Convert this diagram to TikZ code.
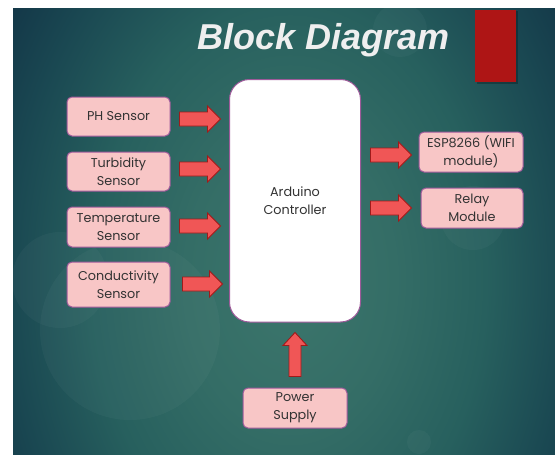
\documentclass[tikz,border=0pt]{standalone}
\usepackage{fontspec}
\usetikzlibrary{calc}
\newfontfamily\boxfont{Poppins}
\newfontfamily\titlefont{Liberation Sans}
\definecolor{bgA}{HTML}{3C766C}
\definecolor{bgB}{HTML}{346D66}
\definecolor{bgC}{HTML}{27605E}
\definecolor{bgD}{HTML}{1A4852}
\definecolor{bgE}{HTML}{123446}
\definecolor{boxfill}{HTML}{F8C6C6}
\definecolor{boxline}{HTML}{9E5A9A}
\definecolor{arrfill}{HTML}{F05656}
\definecolor{arrline}{HTML}{A01A1A}
\definecolor{txt}{HTML}{333333}
\definecolor{titlecol}{HTML}{EFEFEF}
\definecolor{redbar}{HTML}{AE1515}
\pgfdeclareradialshading{bgshade}{\pgfpoint{0bp}{0bp}}{color(0bp)=(bgA); color(7.5bp)=(bgB); color(14bp)=(bgC); color(20bp)=(bgD); color(25bp)=(bgE); color(50bp)=(bgE)}
\tikzset{
  blk/.style={draw=boxline, line width=1pt, fill=boxfill, rounded corners=5pt,
    inner sep=0pt, align=center, text=txt,
    font={\boxfont\fontsize{12.8}{17.7}\selectfont}},
  ctrl/.style={blk, fill=white, rounded corners=20pt},
  barrow/.style={draw=arrline, fill=arrfill, line width=0.9pt, line join=miter},
  bokeh/.style={fill=white, fill opacity=0.03, draw=none}
}
\newcommand\hbarrow[2]{%
  \path[barrow] let \p1=(#1), \p2=(#2) in
  (\x1,\y1+7pt) -- (\x2-13pt,\y1+7pt) -- (\x2-13pt,\y1+13pt) -- (\x2,\y1)
  -- (\x2-13pt,\y1-13pt) -- (\x2-13pt,\y1-7pt) -- (\x1,\y1-7pt) -- cycle;}
\newcommand\vbarrow[2]{%
  \path[barrow] let \p1=(#1), \p2=(#2) in
  (\x1-6pt,\y1) -- (\x1-6pt,\y2-13pt) -- (\x1-12pt,\y2-13pt) -- (\x1,\y2)
  -- (\x1+12pt,\y2-13pt) -- (\x1+6pt,\y2-13pt) -- (\x1+6pt,\y1) -- cycle;}
\begin{document}
\begin{tikzpicture}[x=1pt,y=-1pt]
\useasboundingbox (0,0) rectangle (555,455);
% background
\begin{scope}
  \clip (13,8) rectangle (555,455);
  \shade[shading=bgshade] (-60,-220) rectangle (640,780);
  \fill[bokeh] (130,330) circle (90);
  \fill[bokeh] (60,280) circle (48);
  \fill[bokeh] (400,30) circle (27);
  \fill[bokeh] (419,442) circle (12);
  \fill[bokeh] (473,218) circle (32);
\end{scope}
% red bar
\fill[black, opacity=0.25] (477,11) rectangle (518,84);
\fill[redbar] (475,9.5) rectangle (516,82);
% title
\node[anchor=base, text=titlecol, font={\titlefont\bfseries\itshape\fontsize{36}{40}\selectfont}, inner sep=0pt]
  (title) at (324,49) {Block Diagram};
% nodes
\node[ctrl, minimum width=131pt, minimum height=242.5pt] (ard) at (295,200.75) {Arduino\\Controller};
\node[blk, minimum width=103pt, minimum height=39pt] (ph) at (118.5,116.5) {PH Sensor};
\node[blk, minimum width=103pt, minimum height=39pt] (turb) at (118.5,171.5) {Turbidity\\Sensor};
\node[blk, minimum width=103pt, minimum height=40pt] (temp) at (118.5,227) {Temperature\\Sensor};
\node[blk, minimum width=103pt, minimum height=45pt] (cond) at (118.5,284.5) {Conductivity\\Sensor};
\node[blk, minimum width=104pt, minimum height=40pt] (esp) at (471,152) {ESP8266 (WIFI\\module)};
\node[blk, minimum width=102pt, minimum height=40pt] (relay) at (472,208) {Relay\\Module};
\node[blk, minimum width=104pt, minimum height=40pt] (power) at (295,408) {Power\\Supply};
% arrows
\hbarrow{$(ph.east)+(9,2.5)$}{$(ard.west|-ph.east)+(-8.5,0)$}
\hbarrow{$(turb.east)+(9,-2.5)$}{$(ard.west|-turb.east)+(-8.5,0)$}
\hbarrow{$(temp.east)+(9,-1)$}{$(ard.west|-temp.east)+(-8.5,0)$}
\hbarrow{$(cond.east)+(12,-0.5)$}{$(ard.west|-cond.east)+(-6.5,0)$}
\hbarrow{$(ard.east|-esp.west)+(9.5,3)$}{$(esp.west)+(-7,0)$}
\hbarrow{$(ard.east|-relay.west)+(9.5,0)$}{$(relay.west)+(-9,0)$}
\vbarrow{$(power.north)+(0,-11)$}{$(ard.south)+(0,10)$}
\end{tikzpicture}
\end{document}
